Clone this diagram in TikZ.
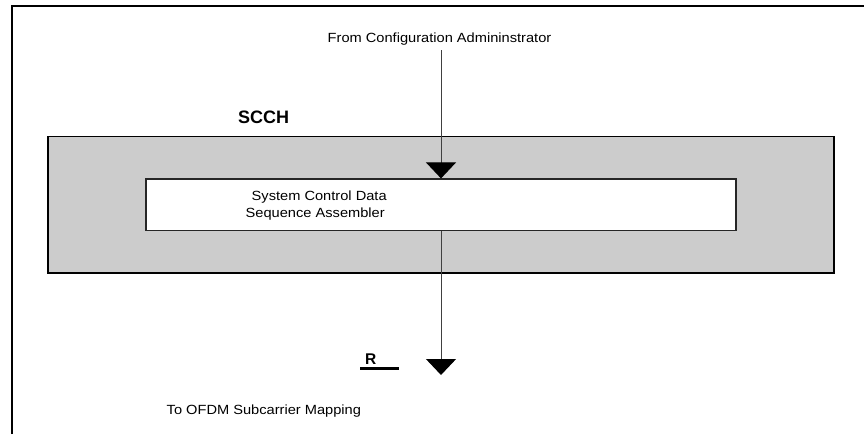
\documentclass[tikz,border=0pt]{standalone}
\usepackage{fontspec}
\setmainfont{Liberation Sans}
\newfontfamily\labelfont[FakeStretch=1.1]{Liberation Sans}
\usetikzlibrary{arrows.meta}
\definecolor{boxgray}{HTML}{CCCCCC}
\definecolor{linegray}{HTML}{404040}
\begin{document}
\begin{tikzpicture}[x=1pt,y=-1pt,
  lbl/.style={font=\labelfont\fontsize{13.3}{16}\selectfont, inner sep=0pt, anchor=base west},
  boldlbl/.style={font=\bfseries\fontsize{18}{21}\selectfont, inner sep=0pt, anchor=base west},
  frameline/.style={draw=black, line width=2.2pt},
  outerbox/.style={draw=black, line width=1.5pt, fill=boxgray, inner sep=0pt},
  innerbox/.style={draw=black!85, line width=1.2pt, fill=white, inner sep=0pt},
  flow/.style={draw=linegray, line width=1pt, -{Triangle[width=30pt,length=16pt,color=black,fill=black]}}
]
\useasboundingbox (0,0) rectangle (864,434);
\draw[frameline] (12,434) -- (12,6) -- (864,6);
\node[outerbox, minimum width=786pt, minimum height=136.5pt] (scch) at (441,204.5) {};
\node[innerbox, minimum width=590pt, minimum height=51.5pt] (sda) at (441,204.75) {};
\node[boldlbl] (scchlabel) at (238,123) {SCCH};
\node[lbl] (sdal1) at (251.5,200) {System Control Data};
\node[lbl] (sdal2) at (245.5,217) {Sequence Assembler};
\node[lbl] (from) at (327.5,42.5) {From Configuration Admininstrator};
\node[lbl] (to) at (166.5,414) {To OFDM Subcarrier Mapping};
\node[font=\bfseries\fontsize{15.5}{18}\selectfont, inner sep=0pt, anchor=base west] (r) at (365,364) {R};
\draw[draw=black, line width=3pt] ([xshift=-5pt,yshift=-4pt]r.base west) -- ([xshift=34pt,yshift=-4pt]r.base west);
\coordinate (src) at (441,50);
\coordinate (dst) at (441,375);
\draw[flow] (src) -- (sda.north);
\draw[flow] (sda.south) -- (dst);
\end{tikzpicture}
\end{document}
